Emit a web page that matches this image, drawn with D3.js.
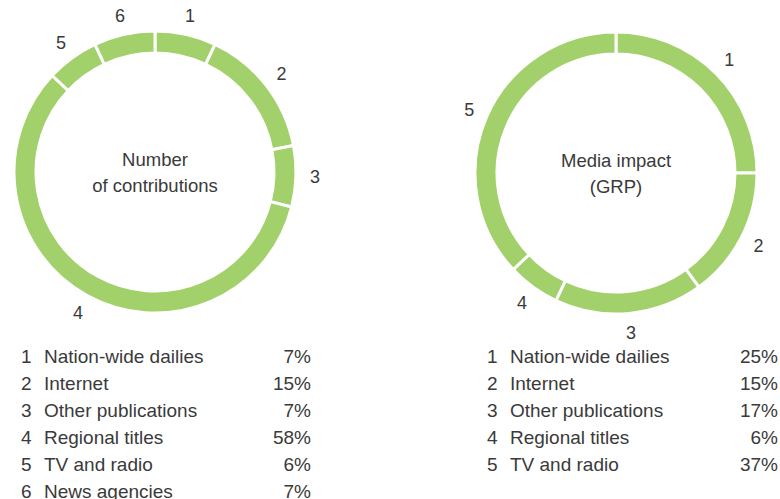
<!DOCTYPE html>
<html>
<head>
<meta charset="utf-8">
<script src="https://cdn.jsdelivr.net/npm/d3@7"></script>
<style>
  body { margin: 0; background: #fff; }
  text { font-family: "Liberation Sans", Arial, sans-serif; fill: #3a3a3a; }
</style>
</head>
<body>
<svg id="chart"></svg>
<script>
// left ring: number of contributions
const contribLabels = ["Nation-wide dailies", "Internet", "Other publications", "Regional titles", "TV and radio", "News agencies"];
const contribValues = [7, 15, 7, 58, 6, 7];

// right ring: media impact (GRP)
const impactLabels = ["Nation-wide dailies", "Internet", "Other publications", "Regional titles", "TV and radio"];
const impactValues = [25, 15, 17, 6, 37];

const width = 780, height = 499;
const green = "#a2d06a";

const svg = d3.select("#chart")
  .attr("width", width)
  .attr("height", height)
  .attr("viewBox", [0, 0, width, height]);

// legend rows share the same spacing on both sides
const rowY = d3.scaleLinear().domain([1, 6]).range([363, 498]);

function createRing({ cx, cy, title, labels, values, legendX, percentX }) {
  const outerRadius = 141,
    innerRadius = 119,
    labelRadius = 160;

  const rows = labels.map((name, i) => ({ num: i + 1, name, value: values[i] }));

  const arcs = d3.pie().sort(null).value(d => d.value)(rows);
  const arc = d3.arc().innerRadius(innerRadius).outerRadius(outerRadius);
  const arcLabel = d3.arc().innerRadius(labelRadius).outerRadius(labelRadius);

  const g = svg.append("g").attr("transform", `translate(${cx},${cy})`);

  g.append("g")
    .attr("stroke", "white")
    .attr("stroke-width", 3)
    .selectAll("path")
    .data(arcs)
    .join("path")
    .attr("fill", green)
    .attr("d", arc);

  g.append("g")
    .attr("font-size", 18)
    .attr("text-anchor", "middle")
    .selectAll("text")
    .data(arcs)
    .join("text")
    .attr("transform", d => `translate(${arcLabel.centroid(d)})`)
    .attr("dy", "0.35em")
    .text(d => d.data.num);

  g.append("g")
    .attr("font-size", 18.5)
    .attr("text-anchor", "middle")
    .selectAll("text")
    .data(title)
    .join("text")
    .attr("y", (d, i) => -6 + i * 26)
    .text(d => d);

  // legend table underneath
  const legend = svg.append("g").attr("font-size", 19);
  const row = legend.selectAll("g")
    .data(rows)
    .join("g")
    .attr("transform", d => `translate(0,${rowY(d.num)})`);

  row.append("text").attr("x", legendX).text(d => d.num);
  row.append("text").attr("x", legendX + 23).text(d => d.name);
  row.append("text")
    .attr("x", percentX)
    .attr("text-anchor", "end")
    .text(d => d.value + "%");
}

createRing({
  cx: 155, cy: 172,
  title: ["Number", "of contributions"],
  labels: contribLabels, values: contribValues,
  legendX: 21, percentX: 311
});

createRing({
  cx: 616, cy: 173,
  title: ["Media impact", "(GRP)"],
  labels: impactLabels, values: impactValues,
  legendX: 487, percentX: 778
});
</script>
</body>
</html>
